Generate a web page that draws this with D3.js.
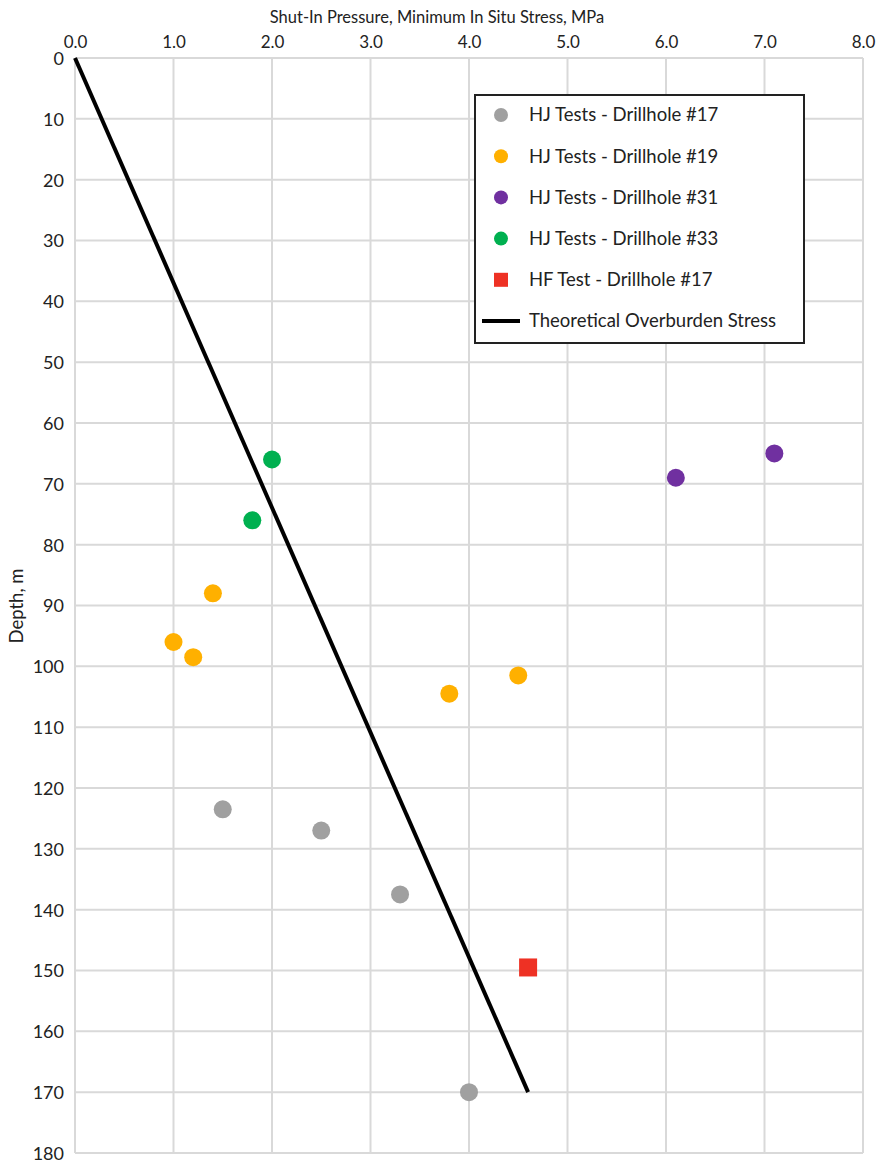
<!DOCTYPE html>
<html>
<head>
<meta charset="utf-8">
<script src="https://cdn.jsdelivr.net/npm/d3@7"></script>
<style>
  body { margin: 0; background: #fff; }
  svg text { font-family: Lato, "Open Sans", sans-serif; fill: #222; }
</style>
</head>
<body>
<svg id="chart" width="878" height="1163"></svg>
<script>
// data (x = pressure MPa, y = depth m)
const dh17 = [[1.5, 123.5], [2.5, 127], [3.3, 137.5], [4.0, 170]];
const dh19 = [[1.4, 88], [1.0, 96], [1.2, 98.5], [3.8, 104.5], [4.5, 101.5]];
const dh31 = [[6.1, 69], [7.1, 65]];
const dh33 = [[2.0, 66], [1.8, 76]];
const hf17 = [[4.6, 149.5]];
const overburden = [[0, 0], [4.6, 170]];

const xTicks = d3.range(0, 8.01, 1);
const yTicks = d3.range(0, 181, 10);

const series = [
  { name: "HJ Tests - Drillhole #17", pts: dh17, color: "#a0a0a0", shape: "circle" },
  { name: "HJ Tests - Drillhole #19", pts: dh19, color: "#ffb000", shape: "circle" },
  { name: "HJ Tests - Drillhole #31", pts: dh31, color: "#7030a0", shape: "circle" },
  { name: "HJ Tests - Drillhole #33", pts: dh33, color: "#00b050", shape: "circle" },
  { name: "HF Test - Drillhole #17", pts: hf17, color: "#ee3124", shape: "square" }
];

const svg = d3.select("#chart");
const x = d3.scaleLinear().domain([0, 8]).range([75, 863]);
const y = d3.scaleLinear().domain([0, 180]).range([58, 1153]);

// grid
svg.append("g").selectAll("line").data(xTicks).enter().append("line")
  .attr("x1", d => x(d)).attr("x2", d => x(d))
  .attr("y1", y(0)).attr("y2", y(180))
  .attr("stroke", "#d9d9d9").attr("stroke-width", 2);
svg.append("g").selectAll("line").data(yTicks).enter().append("line")
  .attr("x1", x(0)).attr("x2", x(8))
  .attr("y1", d => y(d)).attr("y2", d => y(d))
  .attr("stroke", "#d9d9d9").attr("stroke-width", 2);

// axes (top x, left y) - labels only
const xAxis = svg.append("g")
  .attr("transform", `translate(0,${y(0) - 7})`)
  .call(d3.axisTop(x).tickValues(xTicks).tickFormat(d3.format(".1f")).tickSize(0));
xAxis.select(".domain").remove();
xAxis.selectAll("text").style("font-size", "17px").attr("fill", "#222");

const yAxis = svg.append("g")
  .attr("transform", `translate(${x(0) - 8},0)`)
  .call(d3.axisLeft(y).tickValues(yTicks).tickSize(0));
yAxis.select(".domain").remove();
yAxis.selectAll("text").style("font-size", "18px").attr("fill", "#222").attr("dy", "0.36em");

// axis titles
svg.append("text").attr("x", 437).attr("y", 23).attr("text-anchor", "middle")
  .style("font-size", "16.5px").text("Shut-In Pressure, Minimum In Situ Stress, MPa");
svg.append("text").attr("transform", `translate(23,606) rotate(-90)`)
  .attr("text-anchor", "middle").style("font-size", "18.5px").text("Depth, m");

// overburden line
const line = d3.line().x(d => x(d[0])).y(d => y(d[1]));
svg.append("path").datum(overburden).attr("d", line)
  .attr("fill", "none").attr("stroke", "#000").attr("stroke-width", 4);

// markers
series.forEach(s => {
  const g = svg.append("g");
  if (s.shape === "circle") {
    g.selectAll("circle").data(s.pts).enter().append("circle")
      .attr("cx", d => x(d[0])).attr("cy", d => y(d[1])).attr("r", 9)
      .attr("fill", s.color);
  } else {
    g.selectAll("rect").data(s.pts).enter().append("rect")
      .attr("x", d => x(d[0]) - 9).attr("y", d => y(d[1]) - 9)
      .attr("width", 18).attr("height", 18).attr("fill", s.color);
  }
});

// legend
const lg = svg.append("g").attr("transform", "translate(475,95)");
lg.append("rect").attr("width", 329).attr("height", 248)
  .attr("fill", "#fff").attr("stroke", "#222").attr("stroke-width", 2);
const rowY = i => 20 + i * 41.2;
series.forEach((s, i) => {
  if (s.shape === "circle") {
    lg.append("circle").attr("cx", 26).attr("cy", rowY(i)).attr("r", 7).attr("fill", s.color);
  } else {
    lg.append("rect").attr("x", 19).attr("y", rowY(i) - 7).attr("width", 14).attr("height", 14).attr("fill", s.color);
  }
  lg.append("text").attr("x", 54).attr("y", rowY(i)).attr("dy", "0.35em")
    .style("font-size", "18.5px").text(s.name);
});
lg.append("line").attr("x1", 7).attr("x2", 45).attr("y1", rowY(5)).attr("y2", rowY(5))
  .attr("stroke", "#000").attr("stroke-width", 4);
lg.append("text").attr("x", 54).attr("y", rowY(5)).attr("dy", "0.35em")
  .style("font-size", "18.5px").text("Theoretical Overburden Stress");
</script>
</body>
</html>
